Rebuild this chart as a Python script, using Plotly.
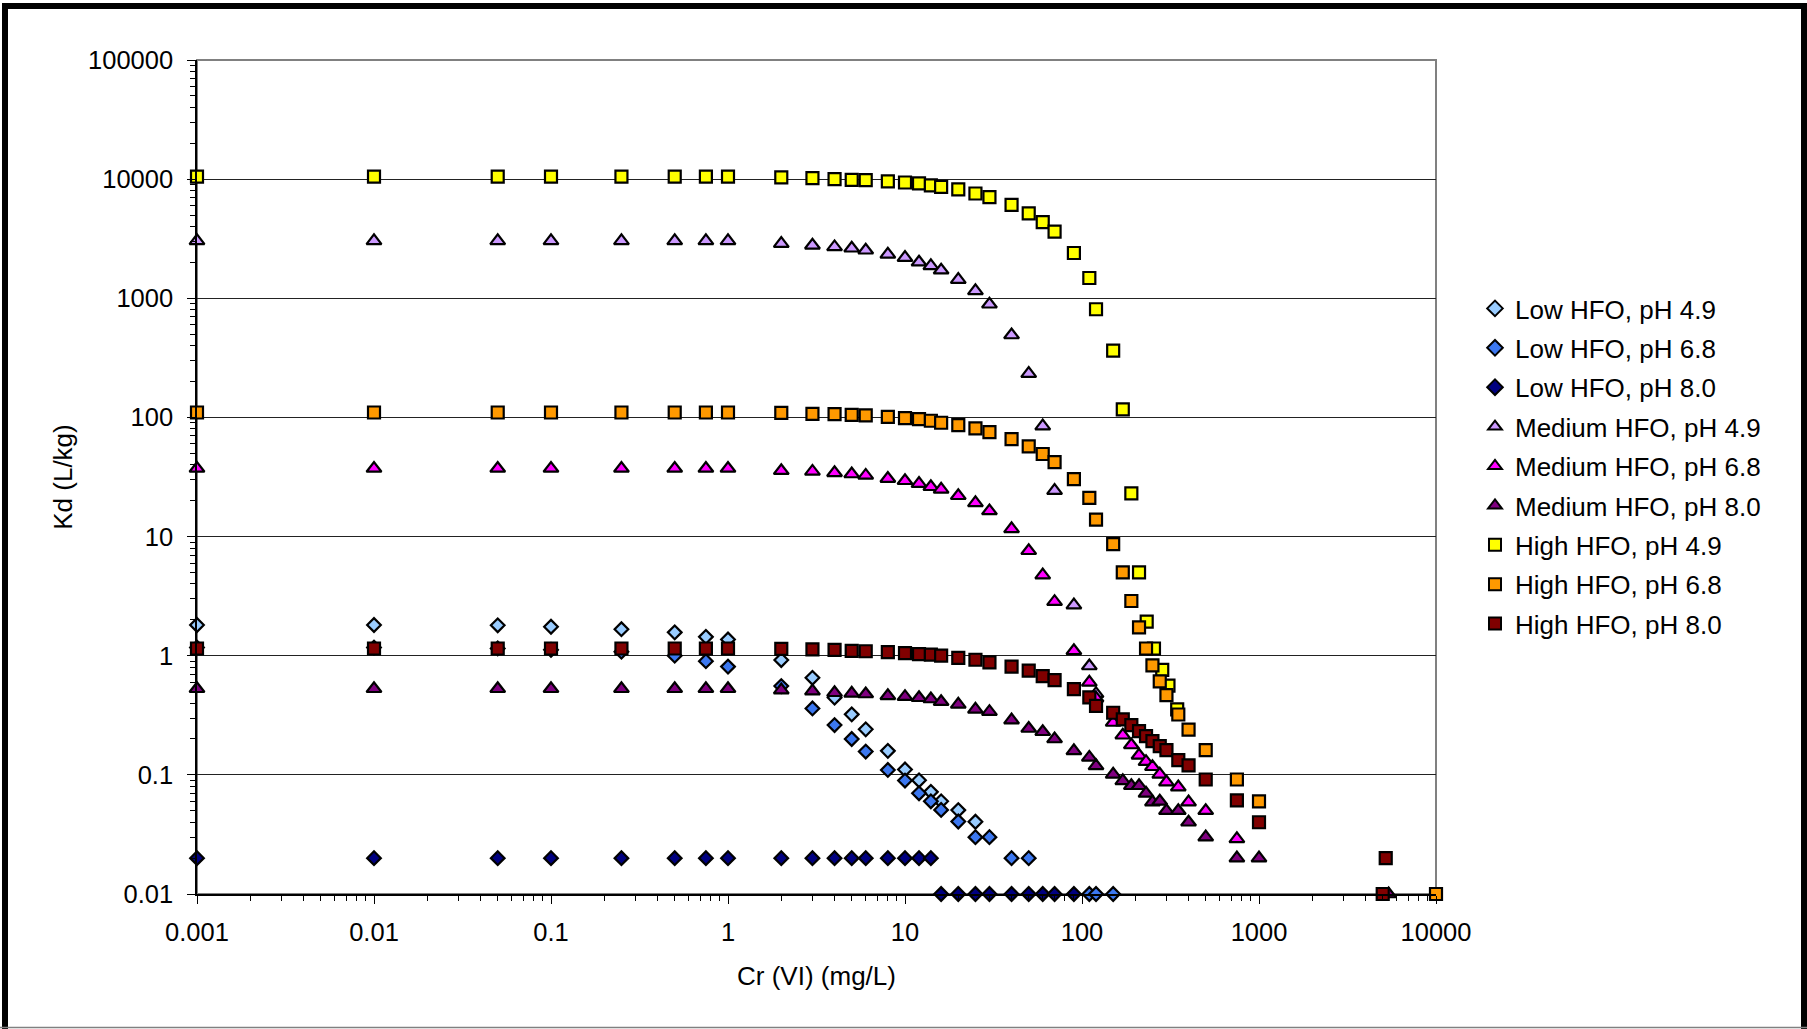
import plotly.graph_objects as go

# ---------------- data ----------------
low49_x = [0.001, 0.01, 0.05, 0.1, 0.25, 0.5, 0.75, 1, 2, 3, 4, 5, 6, 8, 10, 12, 14, 16, 20, 25]
low49_y = [1.81, 1.81, 1.80, 1.75, 1.67, 1.57, 1.44, 1.37, 0.92, 0.653, 0.445, 0.322, 0.241, 0.159,
           0.111, 0.090, 0.072, 0.060, 0.0506, 0.0404]

low68_x = [0.001, 0.01, 0.05, 0.1, 0.25, 0.5, 0.75, 1, 2, 3, 4, 5, 6, 8, 10, 12, 14, 16, 20, 25,
           30, 40, 50, 110, 120, 150]
low68_y = [1.17, 1.17, 1.15, 1.12, 1.08, 1.0, 0.90, 0.81, 0.556, 0.361, 0.262, 0.20, 0.157, 0.11,
           0.0896, 0.070, 0.060, 0.0508, 0.0406, 0.030, 0.030, 0.020, 0.020, 0.010, 0.010, 0.010]

low80_x = [0.001, 0.01, 0.05, 0.1, 0.25, 0.5, 0.75, 1, 2, 3, 4, 5, 6, 8, 10, 12, 14,
           16, 20, 25, 30, 40, 50, 60, 70, 90]
low80_y = [0.02, 0.02, 0.02, 0.02, 0.02, 0.02, 0.02, 0.02, 0.02, 0.02, 0.02, 0.02, 0.02, 0.02, 0.02, 0.02, 0.02,
           0.01, 0.01, 0.01, 0.01, 0.01, 0.01, 0.01, 0.01, 0.01]

med49_x = [0.001, 0.01, 0.05, 0.1, 0.25, 0.5, 0.75, 1, 2, 3, 4, 5, 6, 8, 10, 12, 14, 16, 20, 25,
           30, 40, 50, 60, 70, 90, 110, 120]
med49_y = [3035, 3035, 3035, 3035, 3035, 3035, 3035, 3035, 2880, 2785, 2697, 2630, 2530, 2340, 2196,
           2008, 1870, 1720, 1435, 1153, 891, 492, 233, 84.6, 24.3, 2.66, 0.82, 0.48]

med68_x = [0.001, 0.01, 0.05, 0.1, 0.25, 0.5, 0.75, 1, 2, 3, 4, 5, 6, 8, 10, 12, 14, 16, 20, 25,
           30, 40, 50, 60, 70, 90, 110, 120, 150, 170, 190, 210, 230, 250, 275, 300, 350, 400, 500, 750]
med68_y = [37.3, 37.3, 37.3, 37.3, 37.3, 37.3, 37.3, 37.3, 35.7, 35.2, 34.3, 33.5, 32.6, 30.7, 29.4,
           27.8, 26.2, 24.9, 22.0, 19.2, 16.4, 11.6, 7.6, 4.75, 2.84, 1.10, 0.597, 0.44, 0.275, 0.215,
           0.178, 0.146, 0.129, 0.117, 0.101, 0.087, 0.079, 0.059, 0.050, 0.029]

med80_x = [0.001, 0.01, 0.05, 0.1, 0.25, 0.5, 0.75, 1, 2, 3, 4, 5, 6, 8, 10, 12, 14, 16, 20, 25,
           30, 40, 50, 60, 70, 90, 110, 120, 150, 170, 190, 210, 230, 250, 275, 300, 350, 400, 500,
           750, 1000, 5400]
med80_y = [0.528, 0.528, 0.528, 0.528, 0.528, 0.528, 0.528, 0.528, 0.515, 0.505, 0.489, 0.483, 0.477,
           0.461, 0.453, 0.444, 0.433, 0.411, 0.391, 0.355, 0.339, 0.288, 0.245, 0.23, 0.2, 0.159,
           0.14, 0.119, 0.101, 0.089, 0.081, 0.081, 0.070, 0.059, 0.060, 0.050, 0.050, 0.040, 0.030,
           0.020, 0.020, 0.010]

high49_x = [0.001, 0.01, 0.05, 0.1, 0.25, 0.5, 0.75, 1, 2, 3, 4, 5, 6, 8, 10, 12, 14, 16, 20, 25,
            30, 40, 50, 60, 70, 90, 110, 120, 150, 170, 190, 210, 232, 255, 284, 308, 345]
high49_y = [10500, 10500, 10500, 10500, 10500, 10500, 10500, 10500, 10330, 10200, 10000, 9870, 9810,
            9560, 9370, 9200, 8850, 8620, 8190, 7580, 7060, 6090, 5170, 4350, 3630, 2400, 1480, 809,
            363, 117, 23, 5.0, 1.93, 1.15, 0.76, 0.56, 0.355]

high68_x = [0.001, 0.01, 0.05, 0.1, 0.25, 0.5, 0.75, 1, 2, 3, 4, 5, 6, 8, 10, 12, 14, 16, 20, 25,
            30, 40, 50, 60, 70, 90, 110, 120, 150, 170, 190, 210, 230, 250, 275, 300, 350, 400, 500,
            750, 1000, 10000]
high68_y = [110, 110, 110, 110, 110, 110, 110, 110, 109, 107, 106.6, 105, 104, 101, 98.7, 96.8, 93.8,
            90.2, 86.2, 80.9, 75.3, 65.8, 57.1, 49.3, 42.2, 30.4, 21.1, 13.9, 8.65, 5.0, 2.88, 1.73,
            1.15, 0.83, 0.61, 0.467, 0.321, 0.24, 0.161, 0.0914, 0.06, 0.01]

high80_x = [0.001, 0.01, 0.05, 0.1, 0.25, 0.5, 0.75, 1, 2, 3, 4, 5, 6, 8, 10, 12, 14, 16, 20, 25,
            30, 40, 50, 60, 70, 90, 110, 120, 150, 170, 190, 210, 230, 250, 275, 300, 350, 400, 500,
            750, 1000, 5200, 5000]
high80_y = [1.15, 1.15, 1.15, 1.15, 1.15, 1.15, 1.15, 1.15, 1.14, 1.13, 1.12, 1.10, 1.09, 1.07, 1.05,
            1.03, 1.02, 1.0, 0.96, 0.925, 0.88, 0.81, 0.75, 0.675, 0.625, 0.525, 0.447, 0.38, 0.332,
            0.292, 0.261, 0.233, 0.211, 0.192, 0.174, 0.161, 0.133, 0.12, 0.0914, 0.061, 0.04, 0.02,
            0.01]

series_names = ["Low HFO, pH 4.9", "Low HFO, pH 6.8", "Low HFO, pH 8.0",
                "Medium HFO, pH 4.9", "Medium HFO, pH 6.8", "Medium HFO, pH 8.0",
                "High HFO, pH 4.9", "High HFO, pH 6.8", "High HFO, pH 8.0"]

x_tick_vals = [0.001, 0.01, 0.1, 1, 10, 100, 1000, 10000]
x_tick_text = ["0.001", "0.01", "0.1", "1", "10", "100", "1000", "10000"]
y_tick_vals = [0.01, 0.1, 1, 10, 100, 1000, 10000, 100000]
y_tick_text = ["0.01", "0.1", "1", "10", "100", "1000", "10000", "100000"]

# ---------------- styling ----------------
W, H = 1807, 1029
L, R, T, B = 197, 1436, 60, 894          # plot area in pixels
FONT = "Liberation Sans, Arial, sans-serif"

styles = [
    ("diamond", "#99CCFF", 10.5),
    ("diamond", "#3C78F0", 10.5),
    ("diamond", "#000080", 10.5),
    ("triangle-up", "#CC99FF", 13),
    ("triangle-up", "#FF00FF", 13),
    ("triangle-up", "#800080", 13),
    ("square", "#FFFF00", 12),
    ("square", "#FF9900", 12),
    ("square", "#800000", 12),
]

data = [(low49_x, low49_y), (low68_x, low68_y), (low80_x, low80_y),
        (med49_x, med49_y), (med68_x, med68_y), (med80_x, med80_y),
        (high49_x, high49_y), (high68_x, high68_y), (high80_x, high80_y)]

fig = go.Figure()
for i, ((xs, ys), name, (sym, col, sz)) in enumerate(zip(data, series_names, styles)):
    fig.add_trace(go.Scatter(
        x=xs, y=ys, mode="markers", name=name, legendgroup=f"g{i}",
        cliponaxis=False,
        marker=dict(symbol=sym, color=col, size=sz, line=dict(color="black", width=2.2)),
    ))


def px(xp):
    return (xp - L) / (R - L)


def py(yp):
    return (B - yp) / (B - T)


minor_x = [m * 10.0 ** e for e in range(-3, 4) for m in range(2, 10)]
minor_y = [m * 10.0 ** e for e in range(-2, 5) for m in range(2, 10)]

fig.update_layout(
    width=W, height=H,
    margin=dict(l=L, r=W - R, t=T, b=H - B),
    paper_bgcolor="white", plot_bgcolor="white",
    font=dict(family=FONT, size=25.5, color="black"),
    showlegend=True,
    legend=dict(x=px(1475), y=py(285), xanchor="left", yanchor="top",
                font=dict(family=FONT, size=26, color="black"),
                bgcolor="rgba(0,0,0,0)", borderwidth=0,
                traceorder="grouped", tracegroupgap=2.6, itemsizing="constant"),
    xaxis=dict(type="log", range=[-3, 4], tickmode="array", tickvals=x_tick_vals,
               ticktext=x_tick_text, ticks="outside", ticklen=8, tickwidth=1, tickcolor="black",
               showline=True, linecolor="black", linewidth=1.5, showgrid=False, zeroline=False,
               ticklabelstandoff=7,
               minor=dict(tickmode="array", tickvals=minor_x, ticks="outside", ticklen=5,
                          tickwidth=1, tickcolor="black", showgrid=False),
               title=dict(text="Cr (VI) (mg/L)", font=dict(size=26), standoff=21)),
    yaxis=dict(type="log", range=[-2, 5], tickmode="array", tickvals=y_tick_vals,
               ticktext=y_tick_text, ticks="outside", ticklen=8, tickwidth=1, tickcolor="black",
               showline=True, linecolor="black", linewidth=1.5, showgrid=True,
               gridcolor="#222222", gridwidth=1, zeroline=False, ticklabelstandoff=9,
               minor=dict(tickmode="array", tickvals=minor_y, ticks="outside", ticklen=5,
                          tickwidth=1, tickcolor="black", showgrid=False),
               title=dict(text="Kd (L/kg)", font=dict(size=26), standoff=8)),
    shapes=[
        # plot-area border (top / right grey)
        dict(type="rect", xref="paper", yref="paper", x0=0, x1=1, y0=0, y1=1,
             line=dict(color="#808080", width=2), layer="below"),
        # outer chart frame
        dict(type="rect", xref="paper", yref="paper", x0=px(5), x1=px(1804), y0=py(1045), y1=py(6),
             line=dict(color="black", width=6), layer="below"),
        dict(type="line", xref="paper", yref="paper", x0=px(0), x1=px(1807), y0=py(1027.5), y1=py(1027.5),
             line=dict(color="#808080", width=1.5), layer="below"),
    ],
)

fig.write_html("out.html")
